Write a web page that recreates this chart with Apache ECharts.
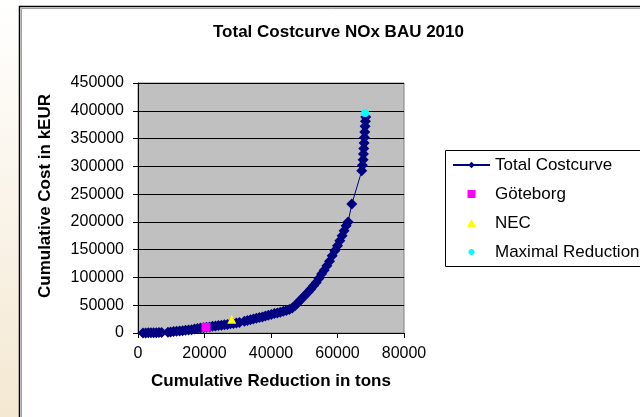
<!DOCTYPE html>
<html>
<head>
<meta charset="utf-8">
<script src="https://cdn.jsdelivr.net/npm/echarts@6/dist/echarts.min.js"></script>
<style>
html,body{margin:0;padding:0;background:#fff;}
#chart{width:640px;height:417px;}
</style>
</head>
<body>
<div id="chart"></div>
<script>
// ---- data ----
const chartTitle = 'Total Costcurve NOx BAU 2010';
const xAxisTitle = 'Cumulative Reduction in tons';
const yAxisTitle = 'Cumulative Cost in kEUR';
const seriesNames = ['Total Costcurve', 'Göteborg', 'NEC', 'Maximal Reduction'];

const reductionX = [1500,2300,3100,3900,4700,5500,6300,7100,9000,9800,10700,11600,12500,13400,14300,15200,16100,17000,17900,18800,19700,20600,21500,22400,23300,24200,25100,26000,26900,27800,28700,29600,30500,32000,32900,33800,34700,35600,36500,37400,38300,39200,40100,41000,41900,42800,43700,44600,45500,46400,47200,48000,48800,49600,50400,51200,52000,52800,53600,54400,55200,56000,56800,57600,58400,59200,60000,60700,61400,62000,62600,63200,64300,67300,67500,67700,67800,67900,68000,68100,68200,68300,68400,68500];
const costY = [0,200,300,300,500,500,700,800,1500,2000,2500,3000,3500,4200,5000,5500,6000,7000,8000,8800,9500,10300,11000,12000,12800,13500,14000,14800,15500,16500,17000,18000,19000,21000,22500,24000,25000,26500,28000,29000,30500,32000,33500,35000,36000,37500,39000,40500,42500,45000,49000,54000,59000,64000,69000,74000,79000,85000,91000,98000,106000,113000,121000,129000,139000,148000,157000,166000,175000,184000,193000,200000,232000,292000,302000,312000,322000,332000,342000,352000,362000,372000,381000,389000];

const goteborgPoint = [20450, 10300];
const necPoint = [28200, 24700];
const maxReductionPoint = [68300, 396000];

const xMin = 0, xMax = 80000, xStep = 20000;
const yMin = 0, yMax = 450000, yStep = 50000;

// ---- chart ----
const curve = reductionX.map((x, i) => [x, costY[i]]);
const chart = echarts.init(document.getElementById('chart'), null, {renderer: 'canvas'});
const FONT = '"Liberation Sans", Arial, sans-serif';

// legend icons: a 37x8 box with the small marker centred in it
const iconBox = 'M0 0 M37 8 ';
const squareIcon = 'path://' + iconBox + 'M14.5 0 L22.5 0 L22.5 8 L14.5 8 Z';
const triangleIcon = 'path://' + iconBox + 'M18.5 0 L23 8 L14 8 Z';
const circleIcon = 'path://' + iconBox + 'M15.5 4 A3 3 0 1 1 21.5 4 A3 3 0 1 1 15.5 4 Z';

chart.setOption({
  animation: false,
  backgroundColor: 'transparent',
  graphic: [
    {type: 'rect', z: -10, shape: {x: 0, y: 0, width: 640, height: 417},
     style: {fill: new echarts.graphic.LinearGradient(0, 0, 0, 1, [
       {offset: 0, color: '#FFFFFF'}, {offset: 1, color: '#F4E8D2'}])}},
    {type: 'rect', z: -9, shape: {x: 19.5, y: 6.5, width: 700, height: 500},
     style: {fill: '#FFFFFF', stroke: '#000000', lineWidth: 1.5}},
    {type: 'polyline', z: -8, shape: {points: [[21.5, 500], [21.5, 8.5], [700, 8.5]]},
     style: {stroke: '#A0A0A0', lineWidth: 1, fill: null}},
    {type: 'rect', z: -7, shape: {x: 445.5, y: 150.5, width: 300, height: 116},
     style: {fill: '#FFFFFF', stroke: '#000000', lineWidth: 1}}
  ],
  title: {
    text: chartTitle,
    left: 208, top: 19,
    textStyle: {fontFamily: FONT, fontSize: 17, fontWeight: 'bold', color: '#000'}
  },
  legend: {
    orient: 'vertical',
    left: 445, top: 150,
    padding: [5, 5, 4, 7],
    itemGap: 9,
    itemWidth: 37, itemHeight: 8,
    borderWidth: 0,
    textStyle: {fontFamily: FONT, fontSize: 17, color: '#000', lineHeight: 20},
    data: [
      {name: seriesNames[0]},
      {name: seriesNames[1], icon: squareIcon},
      {name: seriesNames[2], icon: triangleIcon},
      {name: seriesNames[3], icon: circleIcon}
    ]
  },
  grid: {
    left: 138, top: 83, width: 266, height: 250,
    show: true, backgroundColor: '#C0C0C0', borderColor: '#808080', borderWidth: 1
  },
  xAxis: {
    type: 'value', min: xMin, max: xMax, interval: xStep,
    name: xAxisTitle, nameLocation: 'middle', nameGap: 40,
    nameTextStyle: {fontFamily: FONT, fontSize: 17, fontWeight: 'bold', color: '#000'},
    axisLine: {show: true, onZero: false, lineStyle: {color: '#000', width: 1}},
    axisTick: {show: true, inside: false, length: 5, lineStyle: {color: '#000'}},
    axisLabel: {fontFamily: FONT, fontSize: 16, color: '#000', margin: 13, formatter: v => String(v)},
    splitLine: {show: false}
  },
  yAxis: {
    type: 'value', min: yMin, max: yMax, interval: yStep,
    name: yAxisTitle, nameLocation: 'middle', nameGap: 84, nameRotate: 90,
    nameTextStyle: {fontFamily: FONT, fontSize: 17, fontWeight: 'bold', color: '#000', padding: [0, 0, 0, 24]},
    axisLine: {show: true, onZero: false, lineStyle: {color: '#000', width: 1}},
    axisTick: {show: true, inside: false, length: 5, lineStyle: {color: '#000'}},
    axisLabel: {fontFamily: FONT, fontSize: 16, color: '#000', margin: 14, formatter: v => String(v)},
    splitLine: {show: true, lineStyle: {color: '#000', width: 1}}
  },
  series: [
    {
      name: seriesNames[0], type: 'line', data: curve,
      symbol: 'diamond', symbolSize: 11, showAllSymbol: true,
      lineStyle: {color: '#000080', width: 1},
      itemStyle: {color: '#000080'},
      z: 2
    },
    {
      name: seriesNames[1], type: 'scatter', data: [goteborgPoint],
      symbol: 'rect', symbolSize: 9,
      itemStyle: {color: '#FF00FF', opacity: 1}, z: 4
    },
    {
      name: seriesNames[2], type: 'scatter', data: [necPoint],
      symbol: 'triangle', symbolSize: 9,
      itemStyle: {color: '#FFFF00', opacity: 1}, z: 4
    },
    {
      name: seriesNames[3], type: 'scatter', data: [maxReductionPoint],
      symbol: 'circle', symbolSize: 8,
      itemStyle: {color: '#00FFFF', opacity: 1}, z: 4
    }
  ]
});
</script>
</body>
</html>
